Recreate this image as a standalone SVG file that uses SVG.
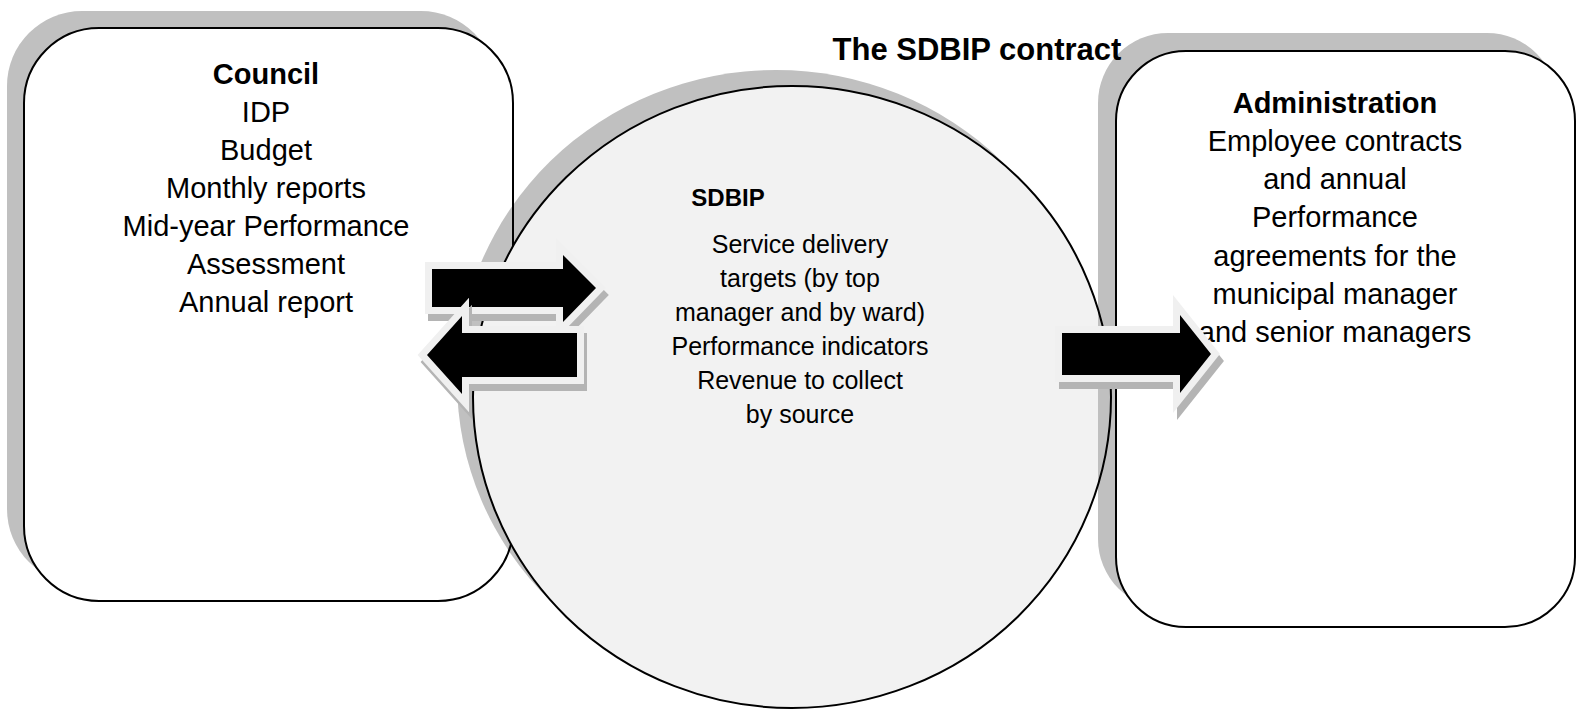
<svg xmlns="http://www.w3.org/2000/svg" width="1580" height="714" viewBox="0 0 1580 714">
<style>
.sh{fill:#c0c0c0;stroke:none}
.fillw{fill:#fff;stroke:none}
.edge{fill:none;stroke:#000;stroke-width:2}
.box{fill:#fff;stroke:#000;stroke-width:2}
.t{font-family:"Liberation Sans",Arial,sans-serif;font-size:25px;fill:#000;text-anchor:middle}
.big{font-size:29px}
.b{font-weight:bold}
.arr{fill:#000;stroke:#f0f0f0;stroke-width:14;stroke-linejoin:miter;paint-order:stroke}
.arrsh{fill:#b4b4b4;stroke:#b4b4b4;stroke-width:14;stroke-linejoin:miter}
</style>
<rect width="1580" height="714" fill="#fff"/>
<g id="council">
<rect class="sh" x="7" y="11" width="489" height="573" rx="75"/>
<rect class="fillw" x="24" y="28" width="489" height="573" rx="75"/>
</g>
<g id="sdbip">
<ellipse class="sh" cx="776" cy="381" rx="319" ry="311"/>
<rect class="edge" x="24" y="28" width="489" height="573" rx="75"/>
<ellipse cx="792" cy="397" rx="319" ry="311" fill="#f2f2f2"/>
</g>
<g id="administration">
<rect class="sh" x="1098" y="33" width="459" height="576" rx="70"/>
<ellipse class="edge" cx="792" cy="397" rx="319" ry="311"/>
<rect class="box" x="1116" y="51" width="459" height="576" rx="70"/>
</g>
<g id="labels">
<text class="t b" x="977" y="60" style="font-size:31px">The SDBIP contract</text>
<text class="t big" x="266"><tspan class="b" x="266" y="84">Council</tspan><tspan x="266" y="122">IDP</tspan><tspan x="266" y="160">Budget</tspan><tspan x="266" y="198">Monthly reports</tspan><tspan x="266" y="236">Mid-year Performance</tspan><tspan x="266" y="274">Assessment</tspan><tspan x="266" y="312">Annual report</tspan></text>
<text class="t b" x="728" y="206" style="font-size:24px">SDBIP</text>
<text class="t" x="800"><tspan x="800" y="253">Service delivery</tspan><tspan x="800" y="287">targets (by top</tspan><tspan x="800" y="321">manager and by ward)</tspan><tspan x="800" y="355">Performance indicators</tspan><tspan x="800" y="389">Revenue to collect</tspan><tspan x="800" y="423">by source</tspan></text>
<text class="t big" x="1335"><tspan class="b" x="1335" y="113">Administration</tspan><tspan x="1335" y="151">Employee contracts</tspan><tspan x="1335" y="189">and annual</tspan><tspan x="1335" y="227">Performance</tspan><tspan x="1335" y="266">agreements for the</tspan><tspan x="1335" y="304">municipal manager</tspan><tspan x="1335" y="342">and senior managers</tspan></text>
</g>
<g id="connectors">
<polygon class="arrsh" transform="translate(3,7)" points="432,269 563,269 563,255 596,288 563,322 563,307 432,307"/>
<polygon class="arr" points="432,269 563,269 563,255 596,288 563,322 563,307 432,307"/>
<polygon class="arrsh" transform="translate(3,7)" points="577,333 462,333 462,316 427,355 462,394 462,377 577,377"/>
<polygon class="arr" points="577,333 462,333 462,316 427,355 462,394 462,377 577,377"/>
<polygon class="arrsh" transform="translate(4,7)" points="1062,333 1180,333 1180,315 1211,354 1180,393 1180,375 1062,375"/>
<polygon class="arr" points="1062,333 1180,333 1180,315 1211,354 1180,393 1180,375 1062,375"/>
</g>
</svg>
